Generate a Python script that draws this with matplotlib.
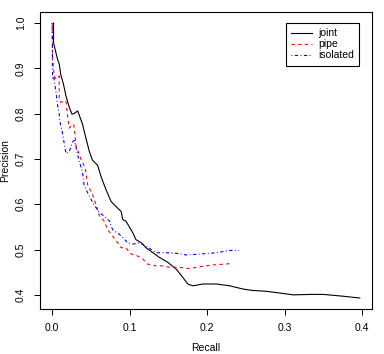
import matplotlib
matplotlib.use("Agg")
import matplotlib.pyplot as plt
import numpy as np

# precision / recall curves
joint_recall = [0.0017, 0.0017, 0.0017, 0.004, 0.007, 0.009, 0.011, 0.0145, 0.0177, 0.022, 0.0255,
                0.028, 0.0328, 0.035, 0.039, 0.0436, 0.048, 0.052, 0.0586, 0.063, 0.067, 0.0695,
                0.076, 0.080, 0.089, 0.091, 0.095, 0.104, 0.108, 0.115, 0.121, 0.130, 0.138,
                0.149, 0.160, 0.1665, 0.175, 0.1815, 0.1945, 0.212, 0.229, 0.246, 0.257, 0.276,
                0.294, 0.311, 0.3325, 0.35, 0.3755, 0.397]
joint_precision = [1.0, 0.97, 0.956, 0.94, 0.919, 0.91, 0.886, 0.865, 0.839, 0.814, 0.799,
                   0.80, 0.806, 0.796, 0.777, 0.745, 0.716, 0.697, 0.686, 0.661, 0.643, 0.632,
                   0.606, 0.599, 0.584, 0.566, 0.563, 0.537, 0.522, 0.515, 0.504, 0.493, 0.483,
                   0.472, 0.457, 0.443, 0.424, 0.420, 0.424, 0.424, 0.420, 0.413, 0.410, 0.408,
                   0.404, 0.400, 0.401, 0.401, 0.397, 0.393]

pipe_recall = [0.0, 0.0004, 0.0026, 0.005, 0.009, 0.009, 0.011, 0.0177, 0.0198, 0.022, 0.026,
               0.028, 0.030, 0.0306, 0.037, 0.0427, 0.0457, 0.052, 0.0565, 0.061, 0.067, 0.0716,
               0.078, 0.0845, 0.089, 0.095, 0.102, 0.110, 0.117, 0.123, 0.134, 0.143, 0.151,
               0.164, 0.177, 0.190, 0.207, 0.231]
pipe_precision = [1.0, 0.919, 0.883, 0.876, 0.883, 0.832, 0.825, 0.828, 0.795, 0.768, 0.777,
                  0.774, 0.745, 0.730, 0.700, 0.679, 0.643, 0.621, 0.599, 0.574, 0.563, 0.544,
                  0.530, 0.515, 0.504, 0.504, 0.490, 0.486, 0.479, 0.468, 0.464, 0.464, 0.461,
                  0.461, 0.458, 0.462, 0.466, 0.469]

isolated_recall = [0.0, 0.0004, 0.002, 0.005, 0.007, 0.009, 0.010, 0.013, 0.0177, 0.022, 0.026,
                   0.0285, 0.030, 0.035, 0.039, 0.041, 0.048, 0.054, 0.061, 0.067, 0.074, 0.076,
                   0.078, 0.087, 0.0975, 0.104, 0.1125, 0.121, 0.134, 0.151, 0.164, 0.173, 0.190,
                   0.212, 0.229, 0.241]
isolated_precision = [1.0, 0.876, 0.88, 0.846, 0.817, 0.799, 0.782, 0.759, 0.712, 0.716, 0.737,
                      0.741, 0.73, 0.694, 0.672, 0.643, 0.617, 0.599, 0.581, 0.574, 0.563, 0.552,
                      0.544, 0.533, 0.515, 0.512, 0.515, 0.508, 0.493, 0.493, 0.491, 0.488, 0.490,
                      0.493, 0.498, 0.498]

xticks = [0.0, 0.1, 0.2, 0.3, 0.4]
yticks = [0.4, 0.5, 0.6, 0.7, 0.8, 0.9, 1.0]

plt.rcParams['font.family'] = ['Liberation Sans', 'DejaVu Sans']
fs = 7.5

fig = plt.figure(figsize=(3.84, 3.54), dpi=100)
ax = fig.add_axes([0.104, 0.127, 0.865, 0.839])

lw = 0.8
ax.plot(joint_recall, joint_precision, color='black', linewidth=lw, label='joint')
ax.plot(pipe_recall, pipe_precision, color='red', linewidth=lw, dashes=(3, 3), label='pipe')
ax.plot(isolated_recall, isolated_precision, color='blue', linewidth=lw,
        dashes=(0.8, 2.2, 3, 2.2), label='isolated')

xmax = max(joint_recall)
ymin = min(joint_precision)
ax.set_xlim(-0.04 * xmax, xmax * 1.04)
ax.set_ylim(ymin - 0.04 * (1.0 - ymin), 1.0 + 0.04 * (1.0 - ymin))

ax.set_xticks(xticks)
ax.set_xticklabels(["%.1f" % t for t in xticks])
ax.set_yticks(yticks)
ax.set_yticklabels(["%.1f" % t for t in yticks], rotation=90, va='center')
ax.tick_params(direction='out', length=4, width=0.7, labelsize=fs)
ax.tick_params(axis='x', pad=6)
ax.tick_params(axis='y', pad=6)

for s in ax.spines.values():
    s.set_linewidth(0.8)

ax.set_xlabel('Recall', fontsize=fs, labelpad=7)
ax.set_ylabel('Precision', fontsize=fs, labelpad=4)

leg = ax.legend(loc='upper right', bbox_to_anchor=(0.961, 0.963), borderaxespad=0,
                fancybox=False, edgecolor='black', framealpha=1, fontsize=fs,
                handlelength=2.0, handletextpad=0.6, labelspacing=0.1, borderpad=0.5)
leg.get_frame().set_linewidth(0.8)

fig.savefig('out.png', dpi=100)
